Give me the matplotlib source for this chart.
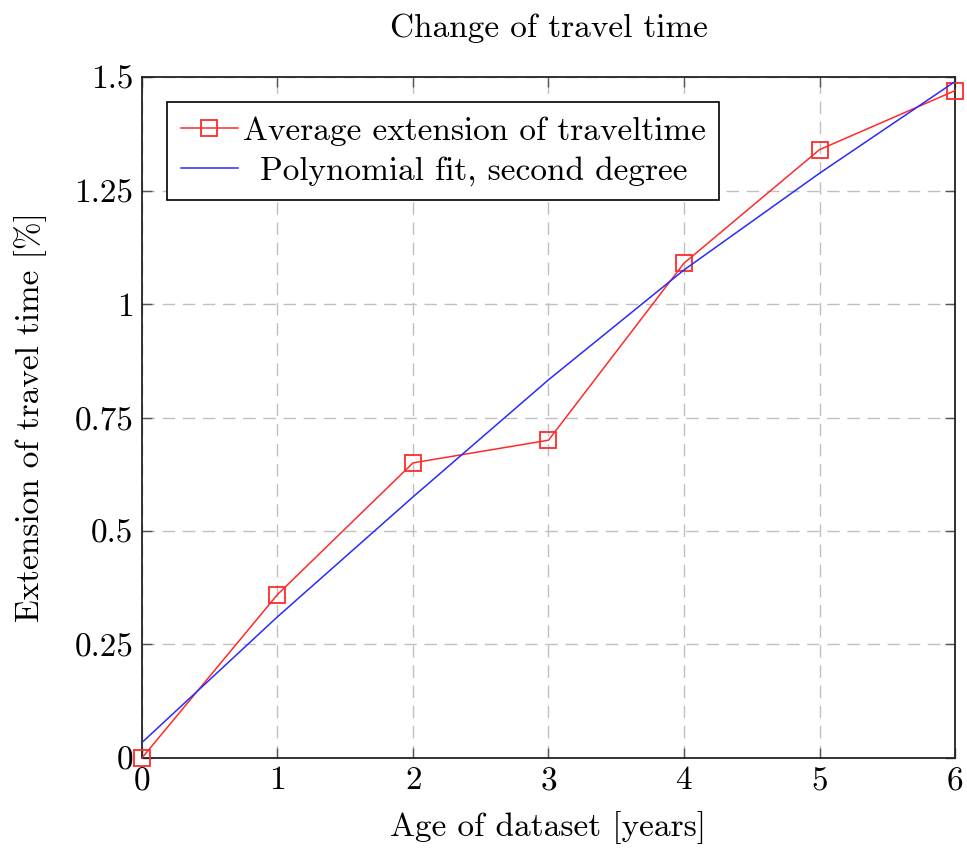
import matplotlib
matplotlib.use('Agg')
import matplotlib.pyplot as plt

# Computer Modern look, like the pgfplots original
plt.rcParams['font.family'] = ['cmr10', 'DejaVu Serif']
plt.rcParams['mathtext.fontset'] = 'cm'
plt.rcParams['axes.formatter.use_mathtext'] = True

# Age of dataset in years
years = [0, 1, 2, 3, 4, 5, 6]
# Average extension of travel time [%]
avg_extension = [0.0, 0.36, 0.65, 0.70, 1.09, 1.34, 1.47]
poly_fit = [0.034, 0.311, 0.575, 0.833, 1.075, 1.288, 1.49]

x_ticks = [0, 1, 2, 3, 4, 5, 6]
y_ticks = [0, 0.25, 0.5, 0.75, 1, 1.25, 1.5]
y_tick_labels = ['0', '0.25', '0.5', '0.75', '1', '1.25', '1.5']

fs = 24

fig = plt.figure(figsize=(9.67, 8.51), dpi=100)
ax = fig.add_axes([0.1468, 0.1093, 0.8408, 0.8002])

ax.plot(years, avg_extension, color='#ff2a2a', lw=1.1, marker='s', markersize=11,
        markerfacecolor='none', markeredgecolor='#ff2a2a', markeredgewidth=1.3,
        label='Average extension of traveltime', clip_on=False, zorder=3)
ax.plot(years, poly_fit, color='#2a2aff', lw=1.1,
        label='Polynomial fit, second degree', zorder=3)

ax.set_xlim(0, 6)
ax.set_ylim(0, 1.5)
ax.set_xticks(x_ticks)
ax.set_yticks(y_ticks)
ax.set_yticklabels(y_tick_labels)
ax.tick_params(direction='in', length=7, width=1.0, color='#555555',
               top=True, right=True, labelsize=fs, pad=6)

# dashed grey grid
ax.grid(True, color='#c0c0c0', linestyle=(0, (9, 5.5)), linewidth=1.0)
for s in ax.spines.values():
    s.set_linewidth(1.3)
    s.set_color('#222222')

ax.set_title('Change of travel time', fontsize=fs, pad=29)
ax.set_xlabel('Age of dataset [years]', fontsize=fs, labelpad=11)
ax.set_ylabel('Extension of travel time [%]', fontsize=fs, labelpad=20)

leg = ax.legend(loc='upper left', fontsize=fs, frameon=True, fancybox=False,
                edgecolor='black', framealpha=1, handlelength=1.7,
                borderpad=0.42, labelspacing=0.33, handletextpad=0.15,
                borderaxespad=0.75)
leg.get_frame().set_linewidth(1.2)

# centre the legend labels against each other, as pgfplots does
fig.canvas.draw()
texts = leg.get_texts()
widths = [t.get_window_extent().width for t in texts]
wmax = max(widths)
for t, w in zip(texts, widths):
    t.set_x((wmax - w) / 2)

fig.savefig('out.png', dpi=100)
